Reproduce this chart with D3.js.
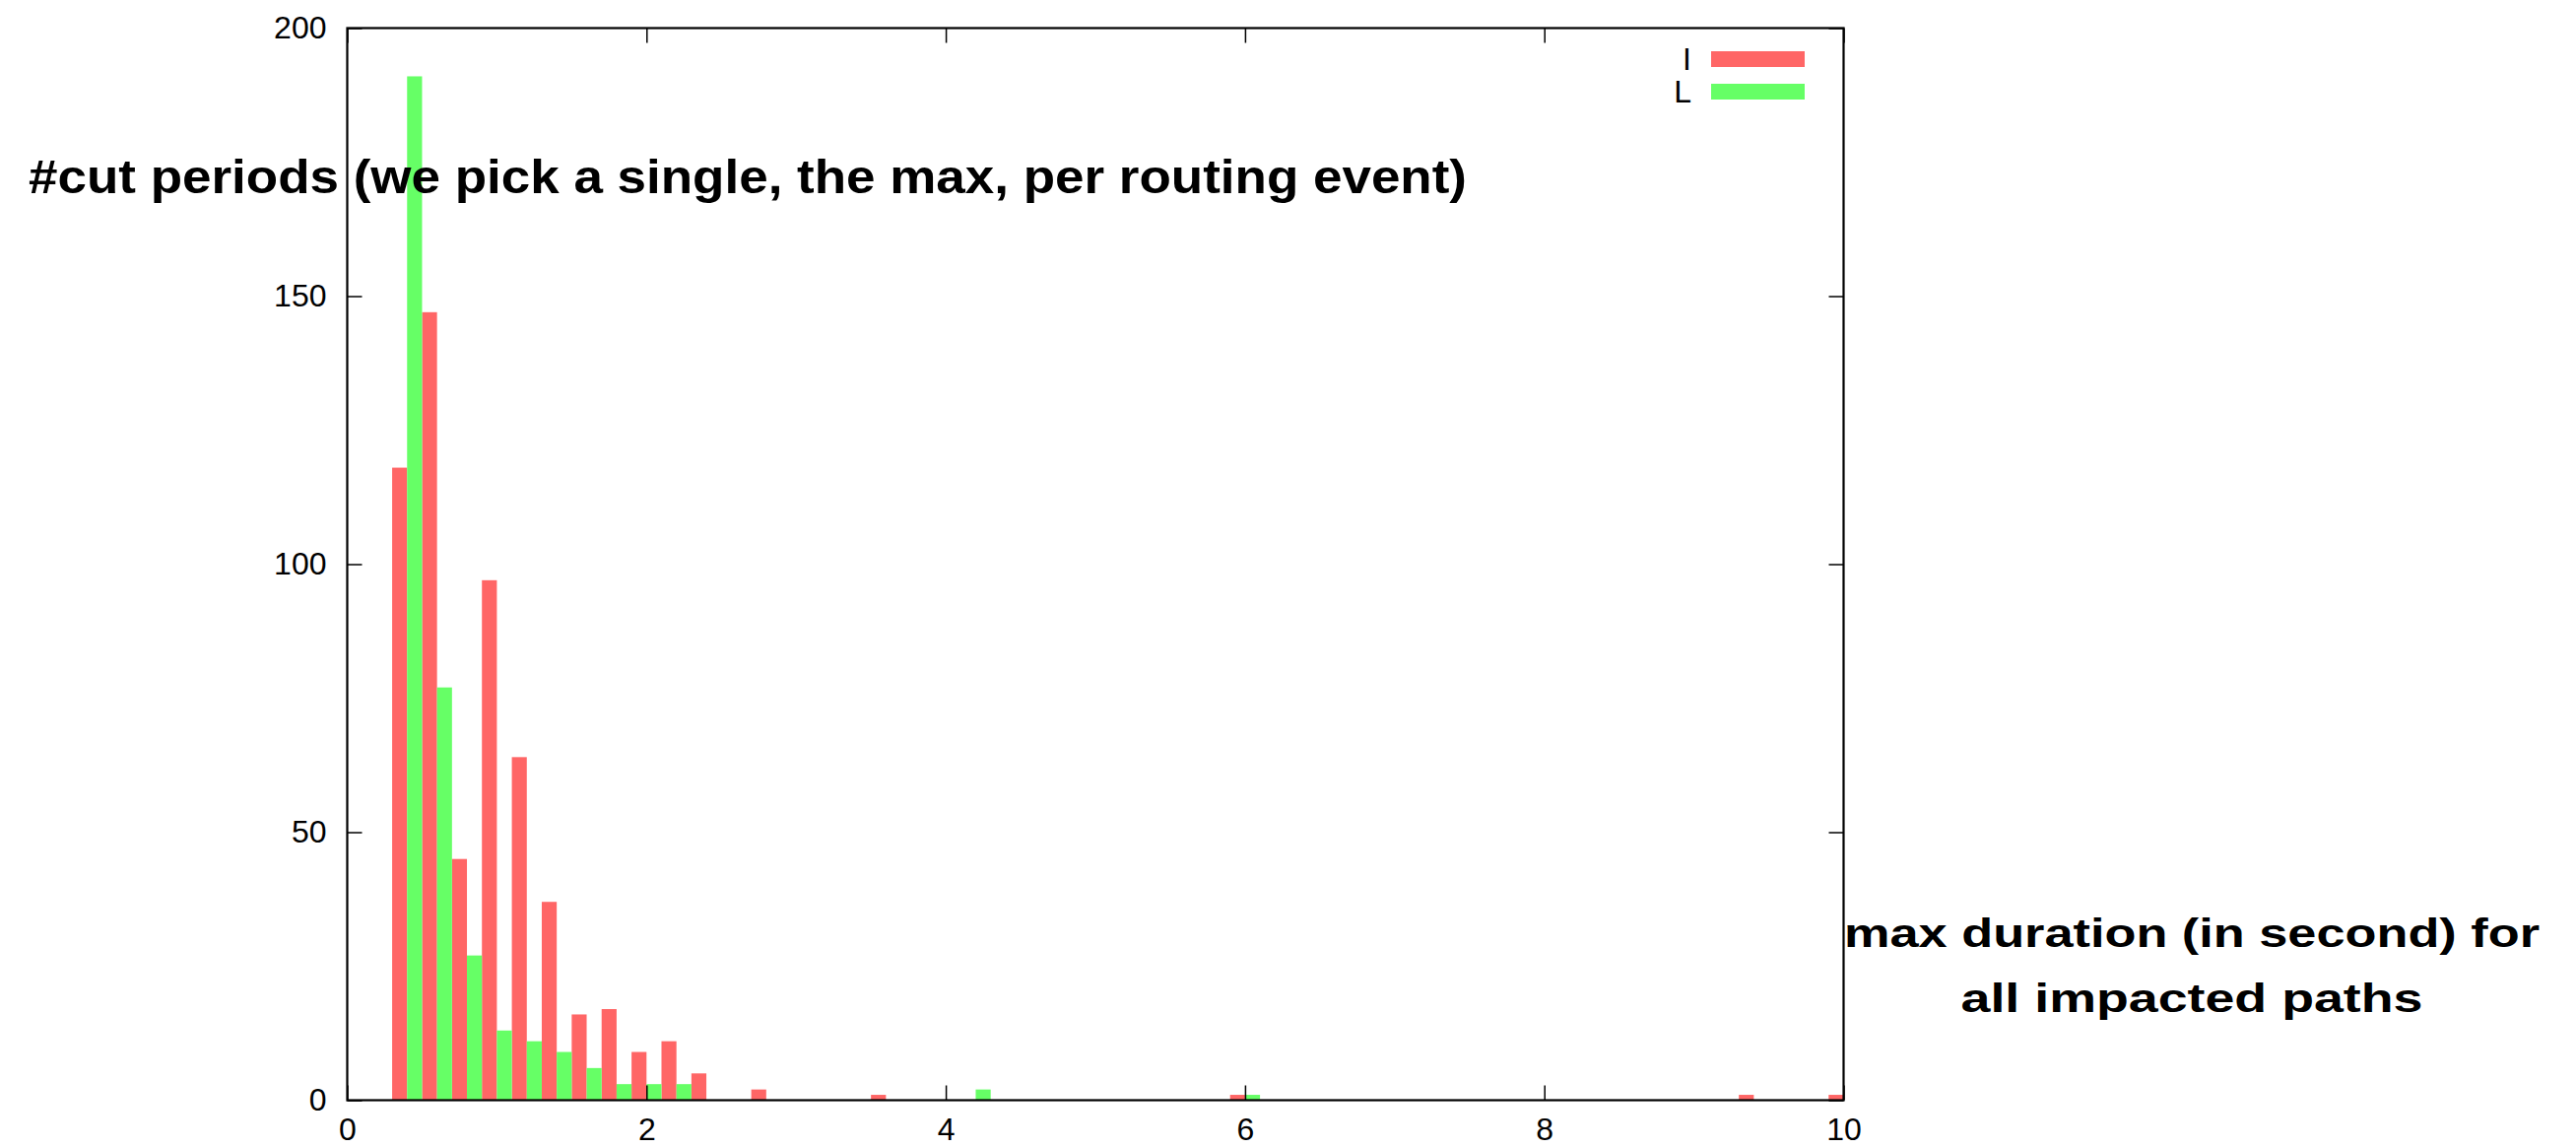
<!DOCTYPE html>
<html>
<head>
<meta charset="utf-8">
<script src="https://cdn.jsdelivr.net/npm/d3@7"></script>
<style>
  body { margin: 0; background: #fff; }
  text { font-family: "Liberation Sans", Arial, Helvetica, sans-serif; fill: #000; }
</style>
</head>
<body>
<svg id="chart" width="2615" height="1165"></svg>
<script>
// series I (red) and L (green): start of each 0.1-wide bar and its count
const startsI = [0.3, 0.5, 0.7, 0.9, 1.1, 1.3, 1.5, 1.7, 1.9, 2.1, 2.3, 2.7, 3.5, 5.9, 9.3, 9.9]
const countsI = [118, 147, 45, 97, 64, 37, 16, 17, 9, 11, 5, 2, 1, 1, 1, 1]
const startsL = [0.4, 0.6, 0.8, 1.0, 1.2, 1.4, 1.6, 1.8, 2.0, 2.2, 4.2, 6.0]
const countsL = [191, 77, 27, 13, 11, 9, 6, 3, 3, 3, 2, 1]
const barWidth = 0.1

const xTicks = [0, 2, 4, 6, 8, 10]
const yTicks = [0, 50, 100, 150, 200]

const seriesNames = ["I", "L"]
const seriesColors = ["#ff6666", "#66ff66"]

const yLabel = "#cut periods (we pick a single, the max, per routing event)"
const xLabelLines = ["max duration (in second) for", "all impacted paths"]

const svg = d3.select("#chart")

const xScale = d3.scaleLinear().domain([0, 10]).range([352.5, 1871.5])
const yScale = d3.scaleLinear().domain([0, 200]).range([1116.5, 28.5])

const series = [
   startsI.map((s, i) => ({x: s, v: countsI[i]})),
   startsL.map((s, i) => ({x: s, v: countsL[i]}))
]

svg.append("g")
   .selectAll("g")
   .data(series)
   .join("g")
   .attr("fill", (d, i) => seriesColors[i])
   .selectAll("rect")
   .data(d => d)
   .join("rect")
   .attr("x", d => xScale(d.x))
   .attr("width", d => xScale(d.x + barWidth) - xScale(d.x))
   .attr("y", d => yScale(d.v))
   .attr("height", d => yScale(0) - yScale(d.v))

// ticks mirrored on all four sides, pointing inward
const tl = 15
const axisL = d3.axisLeft(yScale).tickValues(yTicks).tickSizeInner(-tl).tickSizeOuter(0).tickPadding(21)
const axisR = d3.axisRight(yScale).tickValues(yTicks).tickSizeInner(-tl).tickSizeOuter(0).tickFormat("")
const axisB = d3.axisBottom(xScale).tickValues(xTicks).tickSizeInner(-tl).tickSizeOuter(0).tickPadding(18)
const axisT = d3.axisTop(xScale).tickValues(xTicks).tickSizeInner(-tl).tickSizeOuter(0).tickFormat("")

const axes = [
   [axisL, `translate(${xScale(0)},0)`],
   [axisR, `translate(${xScale(10)},0)`],
   [axisB, `translate(0,${yScale(0)})`],
   [axisT, `translate(0,${yScale(200)})`]
]
axes.forEach(([ax, tr]) => {
   const g = svg.append("g").attr("transform", tr).call(ax)
   g.select(".domain").remove()
   g.selectAll(".tick line").attr("stroke", "#000").attr("stroke-width", 1.5)
   g.selectAll(".tick text").style("font-size", "32px").attr("fill", "#000")
})

svg.append("rect")
   .attr("x", xScale(0))
   .attr("y", yScale(200))
   .attr("width", xScale(10) - xScale(0))
   .attr("height", yScale(0) - yScale(200))
   .attr("fill", "none")
   .attr("stroke", "#000")
   .attr("stroke-width", 2.2)

const legend = svg.append("g")
   .selectAll("g")
   .data(seriesNames)
   .join("g")
   .attr("transform", (d, i) => `translate(0,${60 + i * 33})`)

legend.append("text")
   .attr("x", 1717)
   .attr("y", 0)
   .attr("dy", "0.35em")
   .attr("text-anchor", "end")
   .style("font-size", "32px")
   .text(d => d)

legend.append("rect")
   .attr("x", 1737)
   .attr("y", -8)
   .attr("width", 95)
   .attr("height", 16)
   .attr("fill", (d, i) => seriesColors[i])

svg.append("text")
   .attr("x", 29)
   .attr("y", 196)
   .attr("textLength", 1460)
   .attr("lengthAdjust", "spacingAndGlyphs")
   .style("font-size", "49px")
   .style("font-weight", "bold")
   .text(yLabel)

const xLabelWidths = [706, 469]
svg.append("g")
   .selectAll("text")
   .data(xLabelLines)
   .join("text")
   .attr("x", 2225)
   .attr("y", (d, i) => 961 + i * 66)
   .attr("text-anchor", "middle")
   .attr("textLength", (d, i) => xLabelWidths[i])
   .attr("lengthAdjust", "spacingAndGlyphs")
   .style("font-size", "40px")
   .style("font-weight", "bold")
   .text(d => d)
</script>
</body>
</html>
